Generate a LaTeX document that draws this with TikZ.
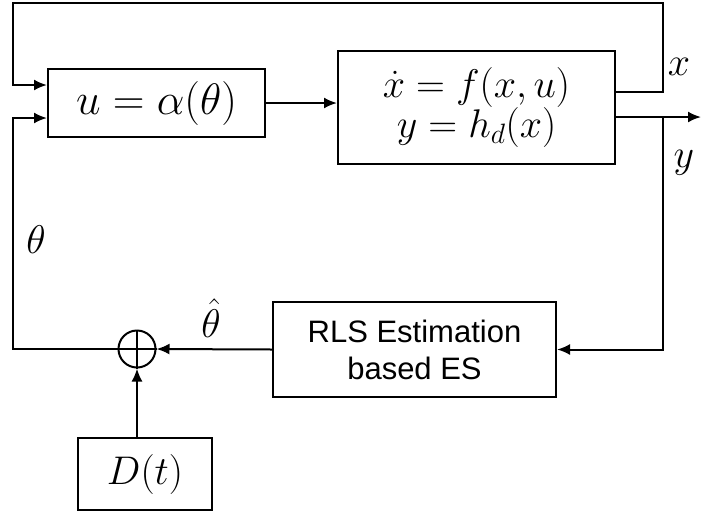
\RequirePackage{fix-cm}
\documentclass[tikz,border=0pt]{standalone}
\usepackage{fontspec}
\newfontfamily\arialfont{Liberation Sans}
\usetikzlibrary{arrows.meta}
\tikzset{
  blk/.style={draw, line width=2pt, inner sep=0pt, fill=white},
  arr/.style={line width=2pt, -{Latex[length=13pt,width=11pt]}},
  ln/.style={line width=2pt},
  lbl/.style={inner sep=0pt, font=\fontsize{40}{46}\selectfont}
}
\begin{document}
\begin{tikzpicture}[x=1pt,y=-1pt]
\useasboundingbox (0,0) rectangle (701,512);
\node[blk, minimum width=217pt, minimum height=68pt, font=\fontsize{44}{50}\selectfont] (ctrl) at (156.5,103) {$u=\alpha(\theta)$};
\node[blk, minimum width=277pt, minimum height=113pt, align=center, font=\fontsize{40}{39}\selectfont] (plant) at (476.5,107.5) {$\dot{x}=f(x,u)$\\$y=h_d(x)$};
\node[blk, minimum width=283pt, minimum height=95pt, align=center, font=\arialfont\fontsize{31}{37}\selectfont] (rls) at (414.5,349.5) {RLS Estimation\\based ES};
\node[draw, circle, line width=2pt, minimum size=37pt, inner sep=0pt] (sum) at (137,349) {};
\draw[ln] (sum.north) -- (sum.south) (sum.west) -- (sum.east);
\node[blk, minimum width=134pt, minimum height=72pt, font=\fontsize{40}{46}\selectfont] (dbox) at (145,474) {$D(t)$};

\coordinate (c1) at (663,3);
\coordinate (c2) at (13,3);
\coordinate (c3) at (13,349);
\coordinate (br) at (663,117);
\coordinate (yout) at (701,117);

\draw[arr] (ctrl.east) -- (plant.west |- ctrl.east);
\draw[arr] ([yshift=15.5pt]plant.east) -| (c1) -- (c2) |- ([yshift=18pt]ctrl.west);
\draw[arr] ([yshift=-9.5pt]plant.east) -- (yout);
\draw[arr] (br) |- (rls.east);
\draw[arr] (rls.west) -- (sum.east);
\draw[arr] (sum.west) -- (c3) |- ([yshift=-15pt]ctrl.west);
\draw[arr] (sum.south |- dbox.north) -- (sum.south);

\node[lbl] (lx) at (679,67) {$x$};
\node[lbl] (ly) at (684,163) {$y$};
\node[lbl] (lth) at (36,240) {$\theta$};
\node[lbl] (lthh) at (211,318) {$\hat{\theta}$};
\end{tikzpicture}
\end{document}
